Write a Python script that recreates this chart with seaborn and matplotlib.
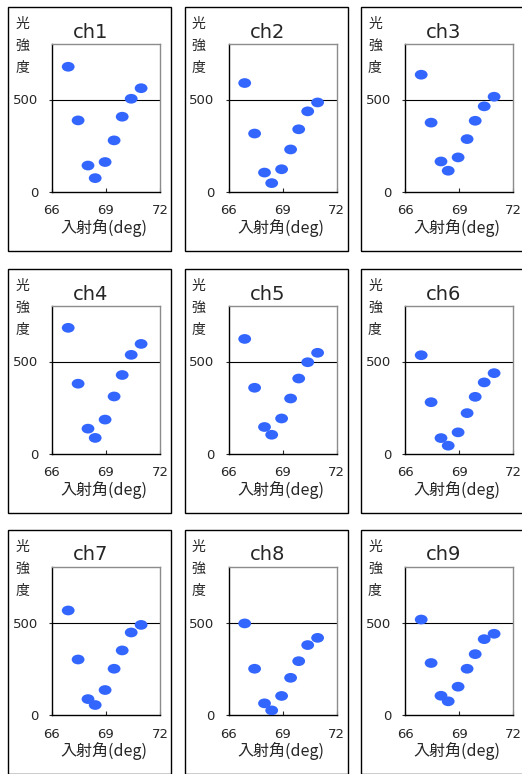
import matplotlib
matplotlib.use('Agg')
import numpy as np
import pandas as pd
import matplotlib.pyplot as plt
import seaborn as sns
from matplotlib.path import Path
from matplotlib.transforms import Affine2D
from matplotlib.patches import Rectangle

# incidence angle (deg), shared by all channels
angle = [66.9, 67.45, 68.0, 68.4, 68.95, 69.45, 69.9, 70.4, 70.95]

# light intensity per channel
ch1 = [677, 387, 143, 75, 162, 279, 407, 504, 561]
ch2 = [589, 316, 105, 48, 123, 230, 339, 436, 484]
ch3 = [634, 375, 165, 115, 187, 286, 385, 463, 515]
ch4 = [682, 380, 137, 87, 186, 311, 427, 536, 595]
ch5 = [622, 358, 146, 104, 192, 300, 408, 496, 547]
ch6 = [534, 280, 86, 45, 117, 221, 309, 387, 437]
ch7 = [565, 300, 86, 54, 135, 250, 349, 446, 487]
ch8 = [495, 250, 63, 25, 103, 201, 291, 378, 417]
ch9 = [516, 281, 104, 74, 153, 250, 329, 410, 439]

channels = ['ch1', 'ch2', 'ch3', 'ch4', 'ch5', 'ch6', 'ch7', 'ch8', 'ch9']
values = [ch1, ch2, ch3, ch4, ch5, ch6, ch7, ch8, ch9]
xticks = [66, 69, 72]
yticks = [0, 500]

sns.set_style('white')
plt.rcParams['font.family'] = ['DejaVu Sans', 'Noto Sans CJK JP']
cjk = ['Noto Sans CJK JP', 'DejaVu Sans']

W, H = 522, 774
fig = plt.figure(figsize=(W / 100, H / 100), dpi=100)


def fx(px):
    return px / W


def fy(py):
    return 1 - py / H


# wide ellipse marker like the original
ellipse = Path.unit_circle().transformed(Affine2D().scale(1.0, 0.76))

col_left = [8, 184.5, 361]
row_top = [7, 269, 530]
pw, ph = 163, 244

for i, (name, vals) in enumerate(zip(channels, values)):
    px = col_left[i % 3]
    py = row_top[i // 3]

    # panel frame
    fig.add_artist(Rectangle((fx(px), fy(py + ph)), pw / W, ph / H,
                             transform=fig.transFigure, fill=False,
                             ec='black', lw=1.0))

    ax = fig.add_axes([fx(px + 44), fy(py + 185), 108 / W, 148 / H])
    df = pd.DataFrame({'angle': angle, 'intensity': vals})
    sns.scatterplot(data=df, x='angle', y='intensity', ax=ax, marker=ellipse,
                    s=85, color='#3366ff', edgecolor='none', linewidth=0,
                    zorder=3)
    ax.axhline(500, color='black', lw=0.8, zorder=1)

    ax.set_xlim(66, 72)
    ax.set_ylim(0, 800)
    ax.set_xticks(xticks)
    ax.set_yticks(yticks)
    ax.set_xlabel('')
    ax.set_ylabel('')
    ax.tick_params(axis='x', direction='in', length=3, width=0.8,
                   pad=9, labelsize=9.5, bottom=True)
    ax.tick_params(axis='y', direction='out', length=2, width=0.8,
                   pad=8, labelsize=9.5, left=True)
    for s in ['left', 'bottom']:
        ax.spines[s].set_color('black')
        ax.spines[s].set_linewidth(1.0)
    for s in ['top', 'right']:
        ax.spines[s].set_color('#8c8c8c')
        ax.spines[s].set_linewidth(1.0)

    fig.text(fx(px + 83), fy(py + 25), name, ha='center', va='center',
             fontsize=14)
    fig.text(fx(px + 14), fy(py + 39), '光\n強\n度', ha='center',
             va='center', fontsize=10, linespacing=1.7, family=cjk)
    fig.text(fx(px + 96), fy(py + 221), '入射角(deg)', ha='center',
             va='center', fontsize=11.5, family=cjk)

fig.savefig('out.png', dpi=100)
